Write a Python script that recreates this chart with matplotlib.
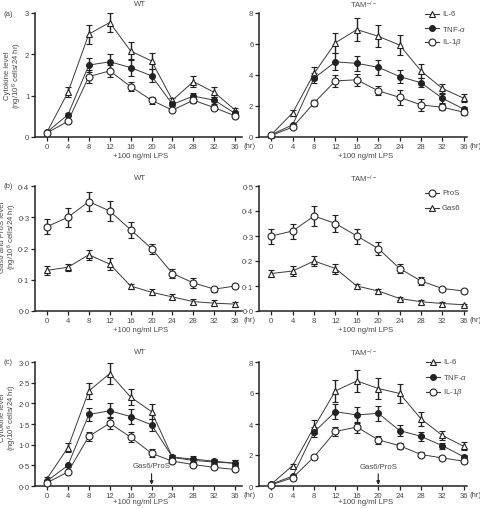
import matplotlib
matplotlib.use("Agg")
import matplotlib.pyplot as plt
from matplotlib.ticker import FixedLocator, FuncFormatter
from matplotlib.lines import Line2D

hours = [0, 4, 8, 12, 16, 20, 24, 28, 32, 36]

# Panel (a) WT
a_wt_il6 = [0.12, 1.08, 2.49, 2.77, 2.08, 1.84, 0.89, 1.34, 1.08, 0.65]
a_wt_il6_err = [0.03, 0.12, 0.23, 0.22, 0.22, 0.2, 0.05, 0.13, 0.12, 0.06]
a_wt_tnf = [0.12, 0.54, 1.74, 1.82, 1.68, 1.48, 0.79, 0.99, 0.89, 0.57]
a_wt_tnf_err = [0.03, 0.03, 0.16, 0.18, 0.2, 0.16, 0.05, 0.07, 0.08, 0.05]
a_wt_il1 = [0.10, 0.38, 1.46, 1.60, 1.22, 0.89, 0.65, 0.89, 0.71, 0.51]
a_wt_il1_err = [0.03, 0.03, 0.15, 0.15, 0.1, 0.08, 0.04, 0.06, 0.06, 0.05]

# Panel (a) TAM-/-
a_tam_il6 = [0.15, 1.56, 4.10, 6.08, 6.93, 6.50, 5.93, 4.26, 3.13, 2.50]
a_tam_il6_err = [0.05, 0.2, 0.4, 0.65, 0.72, 0.7, 0.65, 0.45, 0.3, 0.25]
a_tam_tnf = [0.15, 0.79, 3.80, 4.85, 4.75, 4.50, 3.90, 3.50, 2.50, 1.80]
a_tam_tnf_err = [0.05, 0.08, 0.3, 0.55, 0.5, 0.5, 0.4, 0.3, 0.3, 0.15]
a_tam_il1 = [0.10, 0.64, 2.20, 3.62, 3.69, 2.98, 2.56, 2.07, 1.92, 1.60]
a_tam_il1_err = [0.04, 0.08, 0.2, 0.4, 0.4, 0.3, 0.5, 0.4, 0.2, 0.15]

# Panel (b) WT
b_wt_pros = [0.27, 0.30, 0.35, 0.32, 0.26, 0.20, 0.12, 0.09, 0.07, 0.08]
b_wt_pros_err = [0.025, 0.03, 0.03, 0.032, 0.026, 0.016, 0.015, 0.015, 0.008, 0.005]
b_wt_gas6 = [0.13, 0.14, 0.18, 0.15, 0.08, 0.06, 0.045, 0.03, 0.025, 0.022]
b_wt_gas6_err = [0.015, 0.012, 0.016, 0.02, 0.008, 0.01, 0.008, 0.008, 0.01, 0.008]

# Panel (b) TAM-/-
b_tam_pros = [0.30, 0.32, 0.38, 0.35, 0.30, 0.25, 0.17, 0.12, 0.09, 0.08]
b_tam_pros_err = [0.03, 0.03, 0.04, 0.035, 0.03, 0.025, 0.018, 0.015, 0.006, 0.005]
b_tam_gas6 = [0.15, 0.16, 0.20, 0.17, 0.10, 0.08, 0.05, 0.037, 0.03, 0.025]
b_tam_gas6_err = [0.015, 0.02, 0.02, 0.02, 0.01, 0.01, 0.007, 0.008, 0.008, 0.005]

# Panel (c) WT
c_wt_il6 = [0.18, 0.93, 2.30, 2.72, 2.15, 1.80, 0.69, 0.62, 0.58, 0.55]
c_wt_il6_err = [0.03, 0.1, 0.2, 0.25, 0.2, 0.18, 0.07, 0.06, 0.05, 0.07]
c_wt_tnf = [0.12, 0.50, 1.73, 1.82, 1.68, 1.48, 0.70, 0.65, 0.60, 0.55]
c_wt_tnf_err = [0.03, 0.03, 0.16, 0.18, 0.18, 0.15, 0.06, 0.07, 0.05, 0.08]
c_wt_il1 = [0.08, 0.34, 1.20, 1.52, 1.18, 0.79, 0.60, 0.52, 0.45, 0.40]
c_wt_il1_err = [0.03, 0.03, 0.1, 0.14, 0.12, 0.1, 0.04, 0.04, 0.04, 0.04]

# Panel (c) TAM-/-
c_tam_il6 = [0.12, 1.32, 3.80, 6.14, 6.78, 6.29, 5.97, 4.33, 3.26, 2.56]
c_tam_il6_err = [0.05, 0.1, 0.45, 0.7, 0.72, 0.65, 0.6, 0.45, 0.3, 0.25]
c_tam_tnf = [0.12, 0.64, 3.48, 4.80, 4.58, 4.69, 3.58, 3.20, 2.60, 1.88]
c_tam_tnf_err = [0.05, 0.08, 0.35, 0.5, 0.5, 0.5, 0.35, 0.3, 0.2, 0.15]
c_tam_il1 = [0.08, 0.53, 1.88, 3.52, 3.80, 2.98, 2.60, 2.03, 1.81, 1.60]
c_tam_il1_err = [0.04, 0.05, 0.15, 0.3, 0.35, 0.25, 0.2, 0.15, 0.1, 0.1]

cyto_labels = ["IL-6", r"TNF-$\alpha$", r"IL-1$\beta$"]
bio_labels = ["ProS", "Gas6"]
titles = ["WT", r"TAM$^{-/-}$"]
xlabel_text = "+100 ng/ml LPS"
ylabels = ["Cytokine level\n(ng/10$^6$ cells/24 hr)",
           "Gas6 and ProS level\n(ng/10$^6$ cells/24 hr)",
           "Cytokine level\n(ng/10$^6$ cells/24 hr)"]

LINE = "#3a3a3a"
TXT = "#4a4a4a"
FS = 5.6

plt.rcParams['font.family'] = ['Liberation Sans', 'DejaVu Sans']
plt.rcParams['mathtext.fontset'] = 'custom'
plt.rcParams['mathtext.rm'] = 'Liberation Sans'
plt.rcParams['mathtext.it'] = 'Liberation Sans:italic'

fig = plt.figure(figsize=(4.8, 5.1), dpi=100)

W, H = 480.0, 510.0

def fx(px):
    return px / W

def fy(py):
    return 1 - py / H

def make_ax(left_px, right_px, top_px, bottom_px):
    return fig.add_axes([fx(left_px), fy(bottom_px),
                         (right_px - left_px) / W, (bottom_px - top_px) / H])

styles = {
    "tri": dict(marker="^", mfc="white", ms=5.0),
    "fill": dict(marker="o", mfc="#222222", ms=4.2),
    "circ": dict(marker="o", mfc="white", ms=5.0),
}

def dot_fmt(decimals):
    def f(v, pos):
        if decimals == 0:
            return "%d" % round(v)
        return ("%.1f" % v).replace(".", "\u00b7")
    return FuncFormatter(f)

def setup(ax, xlim, ylim, yticks, decimals):
    ax.set_xlim(*xlim)
    ax.set_ylim(*ylim)
    for s in ["top", "right"]:
        ax.spines[s].set_visible(False)
    for s in ["left", "bottom"]:
        ax.spines[s].set_linewidth(1.1)
        ax.spines[s].set_color("#222222")
    ax.set_xticks(hours)
    ax.yaxis.set_major_locator(FixedLocator(yticks))
    ax.yaxis.set_major_formatter(dot_fmt(decimals))
    ax.tick_params(axis="both", labelsize=FS, labelcolor=TXT, color="#222222",
                   length=3, width=0.9, pad=1.5)
    ax.tick_params(axis="y", pad=1.0)
    ax.set_facecolor("none")

def plot_series(ax, y, err, style):
    st = styles[style]
    ax.errorbar(hours, y, yerr=err, color=LINE, lw=0.7, marker=st["marker"],
                ms=st["ms"], mfc=st["mfc"], mec="#222222", mew=0.8,
                ecolor="#222222", elinewidth=1.0, capsize=2.5, capthick=1.0,
                clip_on=False, zorder=3)

def legend(labels, styles_list, x_px, y_px_list):
    for lab, st, yp in zip(labels, styles_list, y_px_list):
        s = styles[st]
        fig.add_artist(Line2D([fx(x_px), fx(x_px + 14)], [fy(yp), fy(yp)],
                              color=LINE, lw=0.8))
        fig.add_artist(Line2D([fx(x_px + 7)], [fy(yp)], marker=s["marker"],
                              ms=s["ms"], mfc=s["mfc"], mec="#222222", mew=0.8, lw=0))
        fig.text(fx(x_px + 17), fy(yp), lab, fontsize=FS, color=TXT,
                 va="center", ha="left")

WT_X = (35, 242)
TAM_X = (259, 467)
wt_xlim = (-2.3, 37.3)
tam_xlim = (-2.3, 36.6)

rows = [(14, 138), (187, 312), (363, 487)]
title_y = [5, 179, 353]
xlabel_y = [156, 331, 503]

axes = []
for r, (top, bot) in enumerate(rows):
    axw = make_ax(WT_X[0], WT_X[1], top, bot)
    axt = make_ax(TAM_X[0], TAM_X[1], top, bot)
    axes.append((axw, axt))
    fig.text(fx((WT_X[0] + WT_X[1]) / 2 + 2), fy(title_y[r]), titles[0],
             fontsize=FS, color=TXT, ha="center", va="center")
    fig.text(fx((TAM_X[0] + TAM_X[1]) / 2), fy(title_y[r]), titles[1],
             fontsize=FS, color=TXT, ha="center", va="center")
    fig.text(fx(141), fy(xlabel_y[r]), xlabel_text, fontsize=FS, color=TXT,
             ha="center", va="center")
    fig.text(fx(366), fy(xlabel_y[r]), xlabel_text, fontsize=FS, color=TXT,
             ha="center", va="center")
    for xr in (WT_X[1] + 2, TAM_X[1] + 2):
        fig.text(fx(xr), fy(bot + 9), "(hr)", fontsize=FS, color=TXT,
                 ha="left", va="center")

# ---- Panel (a)
ax = axes[0][0]
setup(ax, wt_xlim, (0, 3), [0, 1, 2, 3], 0)
plot_series(ax, a_wt_il6, a_wt_il6_err, "tri")
plot_series(ax, a_wt_tnf, a_wt_tnf_err, "fill")
plot_series(ax, a_wt_il1, a_wt_il1_err, "circ")

ax = axes[0][1]
setup(ax, tam_xlim, (0, 8), [0, 2, 4, 6, 8], 0)
plot_series(ax, a_tam_il6, a_tam_il6_err, "tri")
plot_series(ax, a_tam_tnf, a_tam_tnf_err, "fill")
plot_series(ax, a_tam_il1, a_tam_il1_err, "circ")
legend(cyto_labels, ["tri", "fill", "circ"], 425, [15, 29, 43])

# ---- Panel (b)
ax = axes[1][0]
setup(ax, wt_xlim, (0, 0.4), [0, 0.1, 0.2, 0.3, 0.4], 1)
plot_series(ax, b_wt_pros, b_wt_pros_err, "circ")
plot_series(ax, b_wt_gas6, b_wt_gas6_err, "tri")

ax = axes[1][1]
setup(ax, tam_xlim, (0, 0.5), [0, 0.1, 0.2, 0.3, 0.4, 0.5], 1)
plot_series(ax, b_tam_pros, b_tam_pros_err, "circ")
plot_series(ax, b_tam_gas6, b_tam_gas6_err, "tri")
legend(bio_labels, ["circ", "tri"], 425, [194, 209])

# ---- Panel (c)
ax = axes[2][0]
setup(ax, wt_xlim, (0, 3), [0, 0.5, 1, 1.5, 2, 2.5, 3], 1)
plot_series(ax, c_wt_il6, c_wt_il6_err, "tri")
plot_series(ax, c_wt_tnf, c_wt_tnf_err, "fill")
plot_series(ax, c_wt_il1, c_wt_il1_err, "circ")
ax.annotate("Gas6/ProS", xy=(20, 0.03), xytext=(20, 0.4), fontsize=FS, color=TXT,
            ha="center", va="bottom",
            arrowprops=dict(arrowstyle="-|>", color="#222222", lw=0.8,
                            mutation_scale=5, shrinkA=1, shrinkB=0))

ax = axes[2][1]
setup(ax, tam_xlim, (0, 8), [0, 2, 4, 6, 8], 0)
plot_series(ax, c_tam_il6, c_tam_il6_err, "tri")
plot_series(ax, c_tam_tnf, c_tam_tnf_err, "fill")
plot_series(ax, c_tam_il1, c_tam_il1_err, "circ")
ax.annotate("Gas6/ProS", xy=(20, 0.08), xytext=(20, 1.05), fontsize=FS, color=TXT,
            ha="center", va="bottom",
            arrowprops=dict(arrowstyle="-|>", color="#222222", lw=0.8,
                            mutation_scale=5, shrinkA=1, shrinkB=0))
legend(cyto_labels, ["tri", "fill", "circ"], 426, [363, 378, 393])

# panel letters
for lab, yp in zip(["(a)", "(b)", "(c)"], [15, 187, 363]):
    fig.text(fx(3), fy(yp), lab, fontsize=FS, color=TXT, ha="left", va="center")

# y labels
for lab, xc, yc in zip(ylabels, [14, 9, 9], [76, 237, 418]):
    fig.text(fx(xc), fy(yc), lab, fontsize=FS, color=TXT, rotation=90,
             ha="center", va="center", linespacing=1.05)

fig.savefig("out.png", dpi=100)
